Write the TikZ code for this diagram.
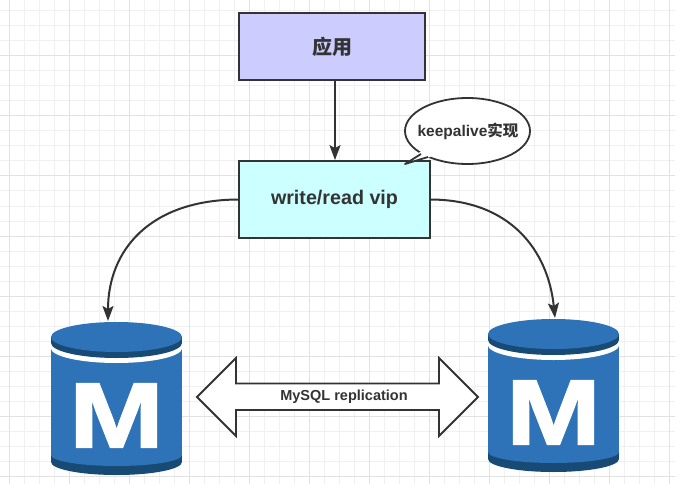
\documentclass[tikz,border=0pt]{standalone}
\usepackage{fontspec}
\setmainfont{Liberation Sans}
\newfontfamily\cjk{Noto Sans CJK SC}
\newfontfamily\heavy[FakeBold=1.6]{Liberation Sans Bold}
\usetikzlibrary{arrows.meta,shapes.geometric}
\definecolor{ink}{HTML}{333333}
\definecolor{dbblue}{HTML}{2E73B8}
\definecolor{dbdark}{HTML}{184A76}
\definecolor{gridminor}{HTML}{F0F0F0}
\definecolor{gridmajor}{HTML}{E2E2E2}
\definecolor{appfill}{HTML}{CCCCFF}
\definecolor{vipfill}{HTML}{CCFFFF}
\tikzset{
  boxnode/.style={draw=ink,line width=1.8pt,minimum width=#1,inner sep=0pt,text=ink},
  flow/.style={draw=ink,line width=2pt,-{Stealth[length=15pt,width=11pt,inset=3pt]}},
  outline/.style={draw=ink,line width=1.8pt}
}
\newcommand{\dbicon}[3]{%
  \begin{scope}[shift={(#1,#2)}]
    % base
    \fill[dbdark] (0,140) ellipse[x radius=65.5pt,y radius=13pt];
    \fill[dbdark] (-65.5,125) rectangle (65.5,140);
    \fill[dbblue] (0,133) ellipse[x radius=65.5pt,y radius=11pt];
    % body
    \fill[dbblue] (-65.5,26) rectangle (65.5,133);
    % white band
    \fill[white] (0,26) ellipse[x radius=65.7pt,y radius=15pt];
    \fill[white] (-65.7,18) rectangle (65.7,26);
    % lid
    \fill[dbdark] (0,21) ellipse[x radius=65.5pt,y radius=15pt];
    \fill[dbdark] (-65.5,15) rectangle (65.5,21);
    \fill[dbblue] (0,15) ellipse[x radius=65.5pt,y radius=15pt];
    \node[text=white,font=\heavy\fontsize{93}{93}\selectfont,inner sep=0pt,anchor=center,xscale=1.22] (#3) at (0,93.5) {M};
  \end{scope}%
}
\begin{document}
\begin{tikzpicture}[x=1pt,y=-1pt]
\useasboundingbox (0,0) rectangle (675,484);
\fill[white] (0,0) rectangle (675,484);
\foreach \x in {9,24,...,669} \draw[gridminor,line width=1pt] (\x,0) -- (\x,484);
\foreach \y in {11,26,...,476} \draw[gridminor,line width=1pt] (0,\y) -- (675,\y);
\foreach \x in {9,69,...,669} \draw[gridmajor,line width=1pt] (\x,0) -- (\x,484);
\foreach \y in {56,116,...,476} \draw[gridmajor,line width=1pt] (0,\y) -- (675,\y);

\dbicon{116.5}{322}{mleft}
\dbicon{553.5}{319}{mright}
\coordinate (dbl) at (108,321);
\coordinate (dbr) at (555,318);

\node[boxnode=186pt,minimum height=67pt,fill=appfill,font=\cjk\bfseries\fontsize{20}{20}\selectfont] (app) at (332,46.5) {\raisebox{-1pt}{应用}};
\node[boxnode=191pt,minimum height=77pt,fill=vipfill,font=\bfseries\fontsize{19.7}{20}\selectfont] (vip) at (334.5,199.5) {write/read vip};

\draw[flow] (app.south -| 335,0) -- (vip.north -| 335,0);
\draw[flow] (vip.west) .. controls (150,200) and (108,250) .. (dbl);
\draw[flow] (vip.east) .. controls (510,200) and (548,250) .. (dbr);

\node[outline,fill=white,ellipse,minimum width=125pt,minimum height=66pt,inner sep=0pt] (bubble) at (467.5,131) {};
\coordinate (tip) at (405,164);
\fill[white] (420,152) -- (tip) -- (430,157) -- (440,150) -- cycle;
\draw[ink,line width=1.8pt,line join=round] (421,154) -- (tip) -- (428,157);
\node[text=ink,font=\bfseries\fontsize{15.5}{16}\selectfont,inner sep=0pt] (bubbletext) at (468,131) {keepalive{\cjk 实现}};

\draw[outline,fill=white,line join=miter] (197,397) -- (236,358) -- (236,383.5) -- (439,383.5) -- (439,358) -- (478,397) -- (439,436) -- (439,410) -- (236,410) -- (236,436) -- cycle;
\node[text=ink,font=\bfseries\fontsize{14.5}{16}\selectfont,inner sep=0pt] (repl) at (344,397) {MySQL replication};
\end{tikzpicture}
\end{document}
